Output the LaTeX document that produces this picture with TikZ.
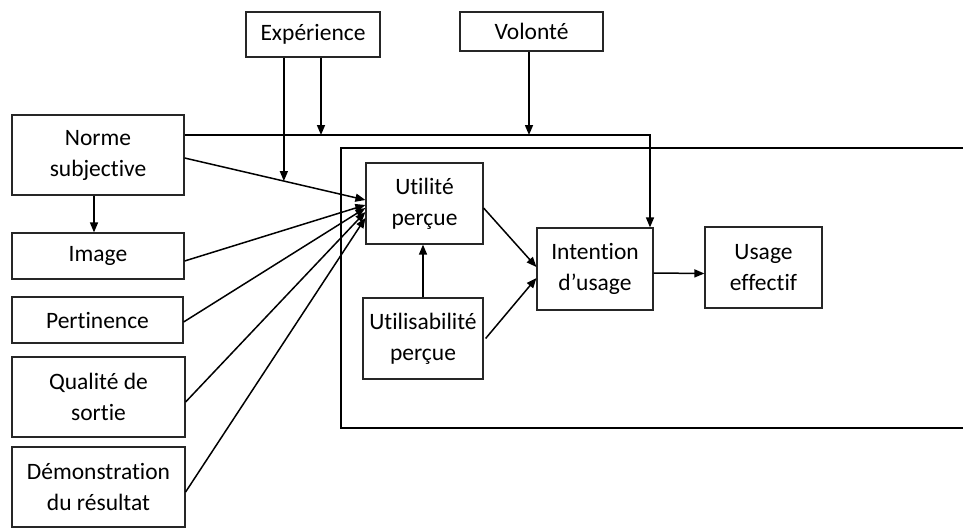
\documentclass[tikz,border=0pt]{standalone}
\usepackage{fontspec}
\setmainfont{Carlito}[Ligatures=NoCommon]
\usetikzlibrary{arrows.meta}
\begin{document}
\begin{tikzpicture}[x=1pt,y=-1pt,
  box/.style={draw=black!85,line width=1.2pt,align=center,inner sep=0pt,
    font=\fontsize{23.5}{31}\selectfont},
  arr/.style={line width=1.5pt,-{Triangle[length=10pt,width=8pt]}},
  ln/.style={line width=1.5pt}]
\useasboundingbox (0,0) rectangle (963,527);
% container
\draw[ln] (963,148) -- (341,148) -- (341,428) -- (963,428);
% nodes
\node[box,minimum width=134pt,minimum height=45pt] (exp) at (313,34.5) {Expérience};
\node[box,minimum width=143pt,minimum height=39pt] (vol) at (531.5,31.5) {Volonté};
\node[box,minimum width=172pt,minimum height=80pt] (norme) at (98,155) {Norme\\subjective};
\node[box,minimum width=172pt,minimum height=46pt] (image) at (98,256) {Image};
\node[box,minimum width=171pt,minimum height=46pt] (pert) at (97.5,320) {Pertinence};
\node[box,minimum width=173pt,minimum height=80pt] (qual) at (98.5,397) {Qualité de\\sortie};
\node[box,minimum width=173pt,minimum height=80pt] (demo) at (98.5,487) {Démonstration\\du résultat};
\node[box,minimum width=117pt,minimum height=81pt] (util) at (424.5,203.5) {Utilité\\perçue};
\node[box,minimum width=120pt,minimum height=81pt] (usab) at (423,338.5) {Utilisabilité\\perçue};
\node[box,minimum width=116pt,minimum height=82pt] (int) at (595,269) {Intention\\d’usage};
\node[box,minimum width=117pt,minimum height=81pt] (usage) at (763.5,267.5) {Usage\\effectif};
% connectors
\draw[arr] ([yshift=20pt]norme.east) -| ([xshift=55pt]int.north);
\path ([yshift=-3pt]norme.east) -- ([yshift=3.5pt]util.west) coordinate[pos=0.549] (c1);
\draw[arr] ([yshift=-3pt]norme.east) -- ([yshift=3.5pt]util.west);
\draw[arr] (norme.south -| 94,0) -- (image.north -| 94,0);
\draw[arr] ([yshift=-5pt]image.east) -- ([yshift=-1.5pt]util.west);
\draw[arr] ([yshift=-2pt]pert.east) -- ([yshift=-4.5pt]util.west);
\draw[arr] ([yshift=-5pt]qual.east) -- ([yshift=-8.5pt]util.west);
\draw[arr] ([yshift=-5pt]demo.east) -- ([yshift=-14.5pt]util.west);
\coordinate (h2) at (321,135);
\coordinate (h3) at (529,135);
\draw[arr] (c1 |- exp.south) -- (c1);
\draw[arr] (h2 |- exp.south) -- (h2);
\draw[arr] (h3 |- vol.south) -- (h3);
\draw[arr] (usab.north) -- (usab.north |- util.south);
\draw[arr] ([yshift=-4.5pt]util.east) -- ([yshift=2pt]int.west);
\draw[arr] ([xshift=2pt]usab.east) -- ([yshift=-9pt]int.west);
\draw[arr] ([yshift=-4pt]int.east) -- ([yshift=-6pt]usage.west);
\end{tikzpicture}
\end{document}
